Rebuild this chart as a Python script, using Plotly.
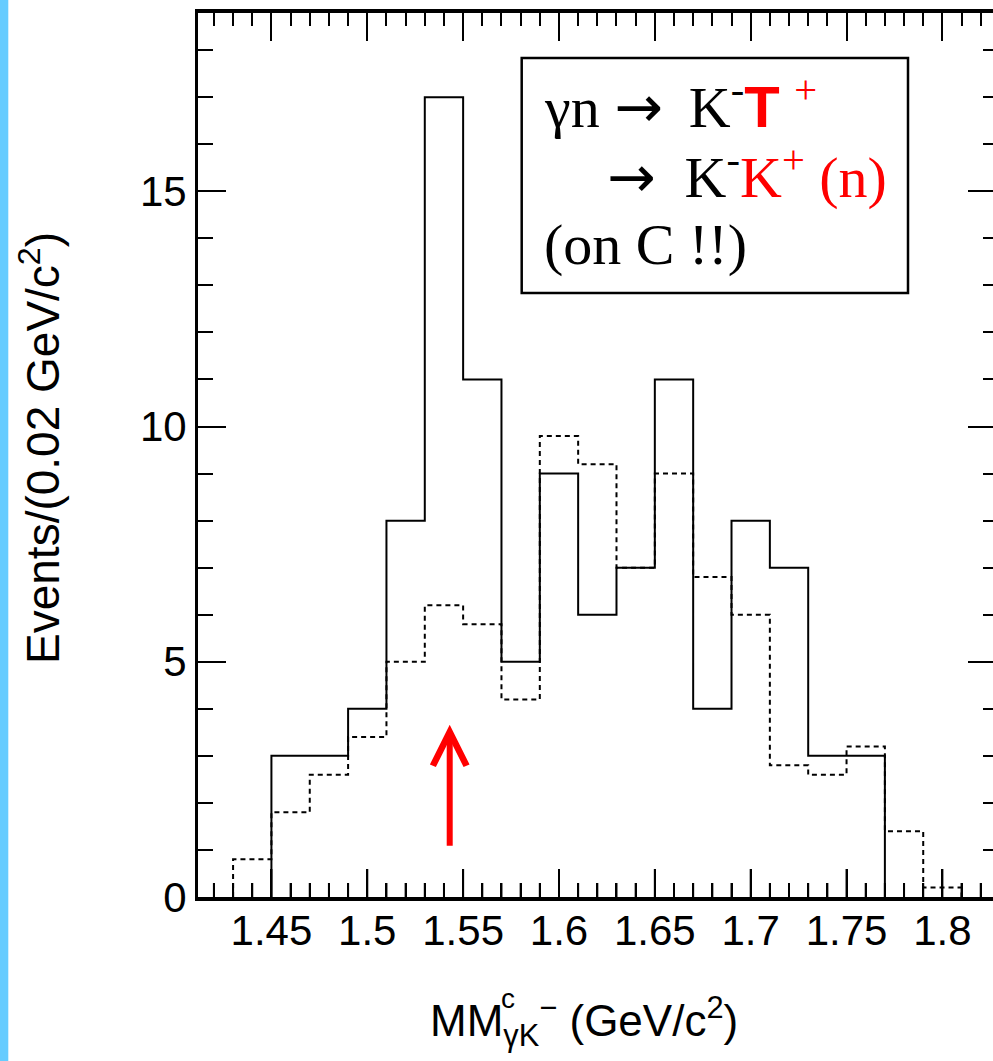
import math
import plotly.graph_objects as go

# ---------------- data ----------------
bin_width = 0.02
solid_start = 1.45
solid_counts = [3, 3, 4, 8, 17, 11, 5, 9, 6, 7, 11, 4, 8, 7, 3, 3]
dashed_start = 1.43
dashed_counts = [0.8, 1.8, 2.6, 3.4, 5.0, 6.2, 5.8, 4.2, 9.8, 9.2, 7.0,
                 9.0, 6.8, 6.0, 2.8, 2.6, 3.2, 1.4, 0.2]
x_tick0, x_dtick, x_minor_dtick = 1.45, 0.05, 0.01
y_tick0, y_dtick, y_minor_dtick = 0, 5, 1
x_range = [1.4117, 1.8264]
y_range = [0, 18.79]
arrow_x = 1.543
arrow_y_tip = 3.66
arrow_y_tail = 1.06

# ---------------- layout geometry ----------------
W, H = 993, 1061
ML, MR, MT, MB = 198, 0, 13, 164
PW = W - ML - MR
PH = H - MT - MB
MAJOR_LEN, MINOR_LEN = 28, 14


def px_x(p):
    return (p - ML) / PW


def px_y(p):
    return (H - MB - p) / PH


def step_xy(start, counts):
    edges = [round(start + i * bin_width, 4) for i in range(len(counts) + 1)]
    xs = [edges[0]] + edges[:-1] + [edges[-1]]
    ys = [0] + list(counts) + [0]
    return xs, ys


def bottom_tick_values():
    """(value, pixel length) of the tick marks on the bottom frame, from the axis settings."""
    ratio = int(round(x_dtick / x_minor_dtick))
    k0 = math.ceil((x_range[0] - x_tick0) / x_minor_dtick - 1e-9)
    k1 = math.floor((x_range[1] - x_tick0) / x_minor_dtick + 1e-9)
    return [(round(x_tick0 + k * x_minor_dtick, 6),
             MAJOR_LEN if k % ratio == 0 else MINOR_LEN) for k in range(k0, k1 + 1)]


SANS = "Liberation Sans"
SERIF = "Liberation Serif"
RED = "#ff0000"

fig = go.Figure()

dx, dy = step_xy(dashed_start, dashed_counts)
fig.add_trace(go.Scatter(x=dx, y=dy, mode="lines", line_shape="hv",
                         line=dict(color="black", width=2, dash="5px,4px"),
                         hoverinfo="skip", showlegend=False))
sx, sy = step_xy(solid_start, solid_counts)
fig.add_trace(go.Scatter(x=sx, y=sy, mode="lines", line_shape="hv",
                         line=dict(color="black", width=2),
                         hoverinfo="skip", showlegend=False))
# invisible trace to activate the top / right tick axes
fig.add_trace(go.Scatter(x=[solid_start], y=[0], xaxis="x2", yaxis="y2", mode="markers",
                         marker=dict(opacity=0), hoverinfo="skip", showlegend=False))

tick_font = dict(family=SANS, size=42, color="black")


def minor_ticks(dt, t0, length, side="inside"):
    return dict(tickmode="linear", dtick=dt, tick0=t0, ticks=side, ticklen=length,
                tickwidth=2, tickcolor="black", showgrid=False)


fig.update_layout(
    width=W, height=H,
    margin=dict(l=ML, r=MR, t=MT, b=MB),
    paper_bgcolor="white", plot_bgcolor="white",
    showlegend=False,
    xaxis=dict(range=x_range, tickmode="linear", tick0=x_tick0, dtick=x_dtick,
               ticks="inside", ticklen=MAJOR_LEN, tickwidth=2, tickcolor="black",
               showline=True, linewidth=3.5, linecolor="black", mirror=False,
               showgrid=False, zeroline=False,
               tickfont=tick_font, ticklabelstandoff=-6,
               minor=minor_ticks(x_minor_dtick, x_tick0, MINOR_LEN)),
    xaxis2=dict(range=x_range, overlaying="x", side="top", anchor="y2",
                tickmode="linear", tick0=x_tick0, dtick=x_dtick, showticklabels=False,
                ticks="inside", ticklen=MAJOR_LEN, tickwidth=2, tickcolor="black",
                showline=True, linewidth=4, linecolor="black",
                showgrid=False, zeroline=False,
                minor=minor_ticks(x_minor_dtick, x_tick0, 13)),
    yaxis=dict(range=y_range, tickmode="linear", tick0=y_tick0, dtick=y_dtick,
               ticks="inside", ticklen=MAJOR_LEN, tickwidth=2, tickcolor="black",
               showline=True, linewidth=3, linecolor="black", mirror=False,
               showgrid=False, zeroline=False,
               tickfont=tick_font,
               minor=minor_ticks(y_minor_dtick, y_tick0, 15)),
    yaxis2=dict(range=y_range, overlaying="y", side="right", anchor="x2",
                tickmode="linear", tick0=y_tick0, dtick=y_dtick, showticklabels=False,
                ticks="inside", ticklen=25, tickwidth=2, tickcolor="black",
                showline=False, showgrid=False, zeroline=False,
                minor=minor_ticks(y_minor_dtick, y_tick0, 10)),
)

# tick marks rising from the bottom frame (generated from the axis tick settings)
for v, length in bottom_tick_values():
    fig.add_shape(type="line", xref="x", yref="paper", x0=v, x1=v,
                  y0=0, y1=length / PH, line=dict(color="black", width=2),
                  layer="above")

# left blue strip
fig.add_shape(type="rect", xref="paper", yref="paper",
              x0=px_x(-2), x1=px_x(8.3), y0=px_y(H + 5), y1=px_y(-5),
              fillcolor="#66ccff", line=dict(width=0), layer="above")

# legend box
fig.add_shape(type="rect", xref="paper", yref="paper",
              x0=px_x(521.7), x1=px_x(908), y0=px_y(293), y1=px_y(58),
              fillcolor="rgba(0,0,0,0)", line=dict(color="black", width=2.5))

box_font = dict(family=SERIF, size=58, color="black")
ARROW = "<span style='font-family:DejaVu Sans'>→</span>"
line1 = ("γn " + ARROW + "\u2009 K<sup>-</sup><span style='color:%s;font-family:%s'><b>T</b></span> "
         "<sup><span style='color:%s'>+</span></sup>") % (RED, SANS, RED)
line2 = (ARROW + "  K<sup>-</sup><span style='color:%s'>K</span>"
         "<sup><span style='color:%s'>+</span></sup>"
         "<span style='color:%s'> (n)</span>") % (RED, RED, RED)
line3 = "(on C !!)"
for txt, xp, yp in [(line1, 542, 104), (line2, 605, 174), (line3, 542, 245)]:
    fig.add_annotation(text=txt, xref="paper", yref="paper", x=px_x(xp), y=px_y(yp),
                       xanchor="left", yanchor="middle", showarrow=False, font=box_font)

# axis titles
fig.add_annotation(text="Events/(0.02 GeV/c<sup>2</sup>)", textangle=-90,
                   xref="paper", yref="paper", x=px_x(40), y=px_y(448),
                   xanchor="center", yanchor="middle", showarrow=False,
                   font=dict(family=SANS, size=46, color="black"))
fig.add_annotation(text="MM<sub>γK</sub><sup>−</sup> (GeV/c<sup>2</sup>)",
                   xref="paper", yref="paper", x=px_x(428), y=px_y(1021),
                   xanchor="left", yanchor="middle", showarrow=False,
                   font=dict(family=SANS, size=44, color="black"))
fig.add_annotation(text="c", xref="paper", yref="paper", x=px_x(499), y=px_y(998),
                   xanchor="left", yanchor="middle", showarrow=False,
                   font=dict(family=SANS, size=28, color="black"))

# red arrow
fig.add_annotation(x=arrow_x, y=arrow_y_tip, ax=arrow_x, ay=arrow_y_tail,
                   xref="x", yref="y", axref="x", ayref="y", text="",
                   showarrow=True, arrowhead=5, arrowsize=1.1, arrowwidth=6,
                   arrowcolor=RED)

fig.write_html("out.html", config={"displayModeBar": False},
               post_script="document.body.style.margin='0px';")
